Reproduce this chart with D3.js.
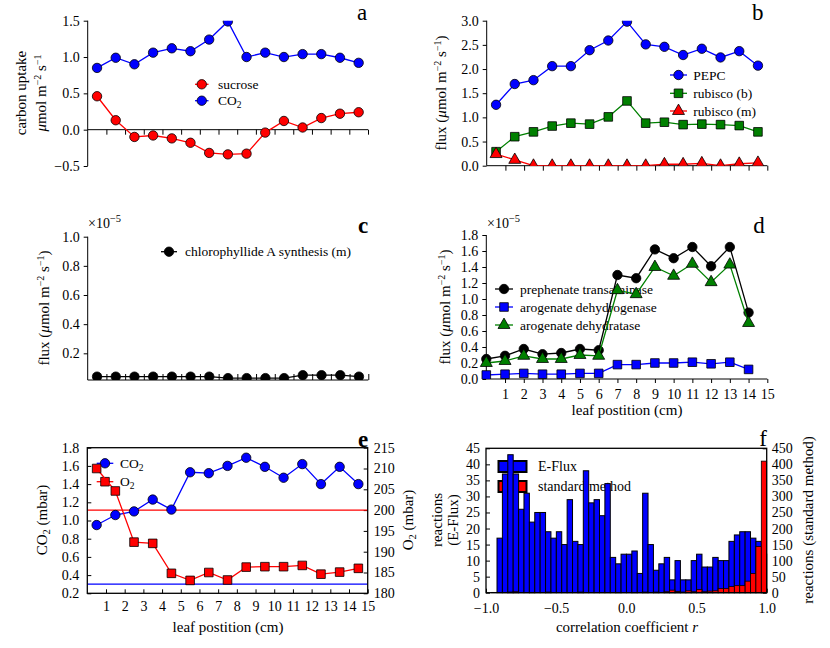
<!DOCTYPE html>
<html><head><meta charset="utf-8">
<script src="https://cdn.jsdelivr.net/npm/d3@7"></script>
<style>body{margin:0;background:#fff}svg{display:block}</style>
</head><body>
<script>
// ---------------- DATA ----------------
const leafPos = [0.5,1.5,2.5,3.5,4.5,5.5,6.5,7.5,8.5,9.5,10.5,11.5,12.5,13.5,14.5];
const leafPosD = [0,1,2,3,4,5,6,7,8,9,10,11,12,13,14];
const xTicksLeaf = [1,2,3,4,5,6,7,8,9,10,11,12,13,14,15];

// panel a
const sucrose = [0.46,0.13,-0.10,-0.08,-0.12,-0.18,-0.32,-0.34,-0.33,-0.04,0.12,0.03,0.16,0.22,0.24];
const co2Uptake = [0.85,0.99,0.90,1.06,1.12,1.08,1.24,1.49,1.00,1.06,1.00,1.04,1.04,0.99,0.92];
const ticksA = [-0.5,0.0,0.5,1.0,1.5];

// panel b
const pepc = [1.26,1.69,1.77,2.06,2.06,2.39,2.59,2.98,2.51,2.46,2.29,2.42,2.24,2.37,2.07];
const rubiscoB = [0.29,0.60,0.70,0.82,0.88,0.86,1.01,1.34,0.88,0.90,0.85,0.86,0.85,0.83,0.70];
const rubiscoM = [0.24,0.12,0.00,0.00,0.00,0.00,0.00,0.00,0.00,0.03,0.03,0.05,0.00,0.04,0.06];
const ticksB = [0.0,0.5,1.0,1.5,2.0,2.5,3.0];

// panel c (x1e-5)
const chlA = [0.04,0.04,0.04,0.04,0.04,0.04,0.04,0.03,0.03,0.03,0.03,0.05,0.05,0.05,0.04];
const ticksC = [0.2,0.4,0.6,0.8,1.0];

// panel d (x1e-5)
const prephenate = [0.25,0.29,0.375,0.31,0.325,0.375,0.36,1.30,1.26,1.62,1.51,1.65,1.41,1.65,0.83];
const arogDehydrogenase = [0.05,0.06,0.07,0.06,0.06,0.07,0.07,0.18,0.18,0.20,0.20,0.21,0.19,0.21,0.12];
const arogDehydratase = [0.20,0.225,0.29,0.25,0.25,0.30,0.29,1.11,1.06,1.40,1.29,1.44,1.21,1.43,0.70];
const ticksD = [0.0,0.2,0.4,0.6,0.8,1.0,1.2,1.4,1.6,1.8];

// panel e
const co2Conc = [0.95,1.06,1.10,1.23,1.12,1.53,1.52,1.60,1.69,1.59,1.47,1.62,1.40,1.59,1.40];
const o2Conc = [210.0,204.6,192.3,192.0,184.8,183.1,185.0,183.2,186.3,186.4,186.4,186.7,184.6,185.1,186.0];
const co2Ref = 0.30, o2Ref = 200;
const ticksEL = [0.2,0.4,0.6,0.8,1.0,1.2,1.4,1.6,1.8];
const ticksER = [180,185,190,195,200,205,210,215];

// panel f (histograms, 51 bins)
const binLo = -0.96, binHi = 1.0;
const eflux = [0,17,37,43,37,26,31,22,25,25,19,17,19,15,29,16,15,38,28,29,24,34,11,9,12,12,13,6,31,15,7,9,11,4,10,4,4,10,12,8,8,11,10,10,16,18,19,19,17,16,12];
const standard = [1,0,0,2,3,0,0,1,0,0,2,0,0,0,0,0,2,0,0,0,0,0,0,1,0,0,1,0,2,0,2,0,3,8,4,2,6,3,10,3,5,6,13,13,19,22,22,36,60,144,410];
const ticksFX = [-1.0,-0.5,0.0,0.5,1.0];
const ticksFL = [0,5,10,15,20,25,30,35,40,45];
const ticksFR = [0,50,100,150,200,250,300,350,400,450];

// ---------------- DRAW ----------------
const F = "'Liberation Serif','DejaVu Serif',serif";
const BLUE = "#0000ff", RED = "#ff0000", GREEN = "#008000", BLACK = "#000000";
const TICK = 14, LEG = 13.5, LAB = 15;
const svg = d3.select("body").append("svg").attr("width",830).attr("height",648)
  .attr("font-family",F);
const fmt1 = d3.format(".1f");
let clipId = 0;

function axisStyle(g) {
  g.attr("font-family",F).attr("font-size",TICK);
  g.select(".domain").remove();
  g.selectAll(".tick line").attr("stroke","#000").attr("stroke-width",1);
  g.selectAll(".tick text").attr("fill","#000");
}
function clipRect(x0,y0,x1,y1){
  const id = "clip"+(clipId++);
  svg.append("clipPath").attr("id",id).append("rect")
    .attr("x",x0).attr("y",y0).attr("width",x1-x0).attr("height",y1-y0);
  return "url(#"+id+")";
}
function marker(g, shape, cx, cy, color){
  if(shape==="circle"){
    g.append("circle").attr("cx",cx).attr("cy",cy).attr("r",4.7)
      .attr("fill",color).attr("stroke","#000").attr("stroke-width",0.8);
  } else {
    const sym = shape==="square" ? d3.symbolSquare : d3.symbolTriangle;
    const size = shape==="square" ? 74 : 62;
    g.append("path").attr("d",d3.symbol(sym,size)()).attr("transform",`translate(${cx},${cy})`)
      .attr("fill",color).attr("stroke","#000").attr("stroke-width",0.8);
  }
}
function series(g, x, y, xs, ys, color, shape){
  const line = d3.line().x((d,i)=>x(xs[i])).y(d=>y(d));
  g.append("path").datum(ys).attr("d",line).attr("fill","none")
    .attr("stroke",color).attr("stroke-width",1.3);
  ys.forEach((v,i)=>marker(g,shape,x(xs[i]),y(v),color));
}
function legendItem(g, x0, x1, y, shape, color, label, tx){
  g.append("line").attr("x1",x0).attr("x2",x1).attr("y1",y).attr("y2",y)
    .attr("stroke",color).attr("stroke-width",1.3);
  marker(g,shape,(x0+x1)/2,y,color);
  const t = g.append("text").attr("x",tx).attr("y",y).attr("dy","0.35em")
    .attr("font-size",LEG).attr("fill","#000");
  label(t);
}
function plain(s){ return t => t.text(s); }
function sub(main, s, rest){ return t => { t.append("tspan").text(main);
  t.append("tspan").attr("font-size",9.5).attr("dy",3).text(s);
  t.append("tspan").attr("dy",-3).text(rest||""); }; }
function unitLabel(t, prefix){
  t.append("tspan").text(prefix);
  t.append("tspan").attr("font-style","italic").text("μ");
  t.append("tspan").text("mol m");
  t.append("tspan").attr("font-size",10).attr("dy",-5).text("−2");
  t.append("tspan").attr("dy",5).text(" s");
  t.append("tspan").attr("font-size",10).attr("dy",-5).text("−1");
}
function yLabel(x, y, build){
  const t = svg.append("text").attr("transform",`translate(${x},${y}) rotate(-90)`)
    .attr("text-anchor","middle").attr("font-size",LAB).attr("fill","#000");
  build(t);
  return t;
}
function letter(x,y,s,bold){
  svg.append("text").attr("x",x).attr("y",y).attr("text-anchor","middle")
    .attr("font-size",23).attr("font-weight",bold?"bold":"normal").text(s);
}
function sci(x,y){
  const t = svg.append("text").attr("x",x).attr("y",y).attr("font-size",14);
  t.append("tspan").text("×10");
  t.append("tspan").attr("font-size",10.5).attr("dy",-6).text("−5");
}

// ===== Panel a =====
{
  const x = d3.scaleLinear([0,15],[87.7,368]);
  const y = d3.scaleLinear([-0.5,1.5],[166,20.7]);
  svg.append("line").attr("x1",87.7).attr("x2",87.7).attr("y1",20.7).attr("y2",166).attr("stroke","#000");
  svg.append("line").attr("x1",87.7).attr("x2",368).attr("y1",y(0)).attr("y2",y(0)).attr("stroke","#000");
  svg.append("g").attr("transform","translate(87.7,0)")
    .call(d3.axisLeft(y).tickValues(ticksA).tickFormat(fmt1).tickSize(4).tickPadding(4)).call(axisStyle);
  svg.append("g").attr("transform",`translate(0,${y(0)})`)
    .call(d3.axisBottom(x).tickValues(xTicksLeaf).tickFormat("").tickSize(5)).call(axisStyle);
  const lg = svg.append("g");
  legendItem(lg,195,208.5,84.3,"circle",RED,plain("sucrose"),218);
  legendItem(lg,195,208.5,100.7,"circle",BLUE,sub("CO","2"),218);
  const g = svg.append("g").attr("clip-path",clipRect(70,20.7,380,166));
  series(g,x,y,leafPos,sucrose,RED,"circle");
  series(g,x,y,leafPos,co2Uptake,BLUE,"circle");
  yLabel(26,93,t=>t.text("carbon uptake"));
  yLabel(46,93,t=>unitLabel(t,""));
  letter(362,19.5,"a");
}

// ===== Panel b =====
{
  const x = d3.scaleLinear([0,15],[486.7,767.3]);
  const y = d3.scaleLinear([0,3],[165.7,20.7]);
  svg.append("line").attr("x1",486.7).attr("x2",486.7).attr("y1",20.7).attr("y2",165.7).attr("stroke","#000");
  svg.append("line").attr("x1",486.7).attr("x2",767.3).attr("y1",165.7).attr("y2",165.7).attr("stroke","#000");
  svg.append("g").attr("transform","translate(486.7,0)")
    .call(d3.axisLeft(y).tickValues(ticksB).tickFormat(fmt1).tickSize(4).tickPadding(4)).call(axisStyle);
  svg.append("g").attr("transform","translate(0,165.7)")
    .call(d3.axisBottom(x).tickValues(xTicksLeaf).tickFormat("").tickSize(5)).call(axisStyle);
  const lg = svg.append("g");
  legendItem(lg,670,687,75,"circle",BLUE,plain("PEPC"),693.3);
  legendItem(lg,670,687,93.3,"square",GREEN,plain("rubisco (b)"),693.3);
  legendItem(lg,670,687,111,"triangle",RED,plain("rubisco (m)"),693.3);
  const g = svg.append("g").attr("clip-path",clipRect(470,20.7,780,165.7));
  series(g,x,y,leafPos,pepc,BLUE,"circle");
  series(g,x,y,leafPos,rubiscoB,GREEN,"square");
  series(g,x,y,leafPos,rubiscoM,RED,"triangle");
  yLabel(446,93,t=>{unitLabel(t,"flux (");t.append("tspan").attr("dy",5).text(")");});
  letter(757.7,19.5,"b");
}

// ===== Panel c =====
{
  const x = d3.scaleLinear([0,15],[87.7,368.3]);
  const y = d3.scaleLinear([0.017,1.0],[380,236.7]);
  svg.append("line").attr("x1",87.7).attr("x2",87.7).attr("y1",236.7).attr("y2",380).attr("stroke","#000");
  svg.append("line").attr("x1",87.7).attr("x2",368.3).attr("y1",380).attr("y2",380).attr("stroke","#000");
  svg.append("g").attr("transform","translate(87.7,0)")
    .call(d3.axisLeft(y).tickValues(ticksC).tickFormat(fmt1).tickSize(4).tickPadding(4)).call(axisStyle);
  svg.append("g").attr("transform","translate(0,380)")
    .call(d3.axisBottom(x).tickValues(xTicksLeaf).tickFormat("").tickSize(-6)).call(axisStyle);
  const lg = svg.append("g");
  legendItem(lg,161,177,251.7,"circle",BLACK,plain("chlorophyllide A synthesis (m)"),185);
  const g = svg.append("g").attr("clip-path",clipRect(70,236.7,380,380));
  series(g,x,y,leafPos,chlA,BLACK,"circle");
  sci(88,228);
  yLabel(49,308,t=>{unitLabel(t,"flux (");t.append("tspan").attr("dy",5).text(")");});
  letter(363,232.7,"c",true);
}

// ===== Panel d =====
{
  const x = d3.scaleLinear([0,15],[486.3,767.3]);
  const y = d3.scaleLinear([0,1.8],[379,235]);
  svg.append("line").attr("x1",486.3).attr("x2",486.3).attr("y1",235).attr("y2",379).attr("stroke","#000");
  svg.append("line").attr("x1",486.3).attr("x2",767.3).attr("y1",379).attr("y2",379).attr("stroke","#000");
  svg.append("g").attr("transform","translate(486.3,0)")
    .call(d3.axisLeft(y).tickValues(ticksD).tickFormat(fmt1).tickSize(4).tickPadding(4)).call(axisStyle);
  svg.append("g").attr("transform","translate(0,379)")
    .call(d3.axisBottom(x).tickValues(xTicksLeaf).tickFormat(d3.format("d")).tickSize(4).tickPadding(6)).call(axisStyle);
  const lg = svg.append("g");
  legendItem(lg,495,513,289,"circle",BLACK,plain("prephenate transaminase"),520);
  legendItem(lg,495,513,307,"square",BLUE,plain("arogenate dehydrogenase"),520);
  legendItem(lg,495,513,325,"triangle",GREEN,plain("arogenate dehydratase"),520);
  const g = svg.append("g").attr("clip-path",clipRect(470,235,780,379));
  series(g,x,y,leafPosD,prephenate,BLACK,"circle");
  series(g,x,y,leafPosD,arogDehydrogenase,BLUE,"square");
  series(g,x,y,leafPosD,arogDehydratase,GREEN,"triangle");
  sci(487,228);
  yLabel(450,307,t=>{unitLabel(t,"flux (");t.append("tspan").attr("dy",5).text(")");});
  svg.append("text").attr("x",627).attr("y",415).attr("text-anchor","middle").attr("font-size",LAB).text("leaf postition (cm)");
  letter(759,232.7,"d");
}

// ===== Panel e =====
{
  const x = d3.scaleLinear([0,15],[87.3,367.7]);
  const yL = d3.scaleLinear([0.2,1.8],[593.3,447.7]);
  const yR = d3.scaleLinear([180,215],[593.3,447.7]);
  svg.append("g").attr("transform","translate(87.3,0)")
    .call(d3.axisLeft(yL).tickValues(ticksEL).tickFormat(fmt1).tickSize(-4).tickPadding(8)).call(axisStyle);
  svg.append("g").attr("transform","translate(367.7,0)")
    .call(d3.axisRight(yR).tickValues(ticksER).tickFormat(d3.format("d")).tickSize(-4).tickPadding(6)).call(axisStyle);
  svg.append("g").attr("transform","translate(0,593.3)")
    .call(d3.axisBottom(x).tickValues(xTicksLeaf).tickFormat(d3.format("d")).tickSize(-4).tickPadding(8)).call(axisStyle);
  const g = svg.append("g").attr("clip-path",clipRect(87.3,447.7,367.7,593.3));
  g.append("line").attr("x1",87.3).attr("x2",367.7).attr("y1",yR(o2Ref)).attr("y2",yR(o2Ref)).attr("stroke",RED).attr("stroke-width",1.3);
  g.append("line").attr("x1",87.3).attr("x2",367.7).attr("y1",yL(co2Ref)).attr("y2",yL(co2Ref)).attr("stroke",BLUE).attr("stroke-width",1.3);
  series(g,x,yL,leafPos,co2Conc,BLUE,"circle");
  const lg = svg.append("g");
  legendItem(lg,96.7,113.3,463.3,"circle",BLUE,sub("CO","2"),120);
  const g2 = svg.append("g").attr("clip-path",clipRect(87.3,447.7,367.7,593.3));
  series(g2,x,yR,leafPos,o2Conc,RED,"square");
  legendItem(lg,96.7,113.3,481.7,"square",RED,sub("O","2"),120);
  svg.append("rect").attr("x",87.3).attr("y",447.7).attr("width",280.4).attr("height",145.6)
    .attr("fill","none").attr("stroke","#000").attr("stroke-width",1.3);
  yLabel(47,520,t=>{t.append("tspan").text("CO");t.append("tspan").attr("font-size",10.5).attr("dy",3).text("2");t.append("tspan").attr("dy",-3).text(" (mbar)");});
  yLabel(413,520,t=>{t.append("tspan").text("O");t.append("tspan").attr("font-size",10.5).attr("dy",3).text("2");t.append("tspan").attr("dy",-3).text(" (mbar)");});
  svg.append("text").attr("x",228).attr("y",632).attr("text-anchor","middle").attr("font-size",LAB).text("leaf postition (cm)");
  letter(363,446.5,"e",true);
}

// ===== Panel f =====
{
  const x = d3.scaleLinear([-1,1],[486,766.7]);
  const yL = d3.scaleLinear([0,45],[592.7,448.3]);
  const yR = d3.scaleLinear([0,450],[592.7,448.3]);
  const n = eflux.length, w = (binHi-binLo)/n;
  const edges = eflux.map((d,i)=>binLo+i*w);
  svg.append("g").attr("transform","translate(486,0)")
    .call(d3.axisLeft(yL).tickValues(ticksFL).tickFormat(d3.format("d")).tickSize(-4).tickPadding(6)).call(axisStyle);
  svg.append("g").attr("transform","translate(766.7,0)")
    .call(d3.axisRight(yR).tickValues(ticksFR).tickFormat(d3.format("d")).tickSize(-4).tickPadding(5)).call(axisStyle);
  svg.append("g").attr("transform","translate(0,592.7)")
    .call(d3.axisBottom(x).tickValues(ticksFX).tickFormat(fmt1).tickSize(-4).tickPadding(10)).call(axisStyle);
  // legend (drawn under bars)
  const lg = svg.append("g");
  lg.append("rect").attr("x",498.5).attr("y",461).attr("width",28).attr("height",11).attr("fill",BLUE).attr("stroke","#000").attr("stroke-width",2);
  lg.append("rect").attr("x",498.5).attr("y",481).attr("width",28).attr("height",11).attr("fill",RED).attr("stroke","#000").attr("stroke-width",2);
  lg.append("text").attr("x",538).attr("y",466.5).attr("dy","0.35em").attr("font-size",LEG+0.5).text("E-Flux");
  lg.append("text").attr("x",538).attr("y",486.5).attr("dy","0.35em").attr("font-size",LEG+0.5).text("standard method");
  const g = svg.append("g");
  g.selectAll("rect.ef").data(eflux).join("rect").attr("class","ef")
    .attr("x",(d,i)=>x(edges[i])).attr("width",(d,i)=>x(edges[i]+w)-x(edges[i]))
    .attr("y",d=>yL(d)).attr("height",d=>yL(0)-yL(d))
    .attr("fill",BLUE).attr("stroke","#000").attr("stroke-width",1);
  g.selectAll("rect.st").data(standard).join("rect").attr("class","st")
    .attr("x",(d,i)=>x(edges[i])).attr("width",(d,i)=>x(edges[i]+w)-x(edges[i]))
    .attr("y",d=>yR(d)).attr("height",d=>yR(0)-yR(d))
    .attr("fill",RED).attr("stroke","#000").attr("stroke-width",0.8);
  svg.append("rect").attr("x",486).attr("y",448.3).attr("width",280.7).attr("height",144.4)
    .attr("fill","none").attr("stroke","#000").attr("stroke-width",1.3);
  yLabel(442,520,t=>t.text("reactions"));
  yLabel(458,520,t=>t.text("(E-Flux)"));
  yLabel(813,520,t=>t.text("reactions (standard method)"));
  const xl = svg.append("text").attr("x",627).attr("y",632).attr("text-anchor","middle").attr("font-size",LAB);
  xl.append("tspan").text("correlation coefficient ");
  xl.append("tspan").attr("font-style","italic").text("r");
  letter(763,446,"f");
}
</script>
</body></html>
